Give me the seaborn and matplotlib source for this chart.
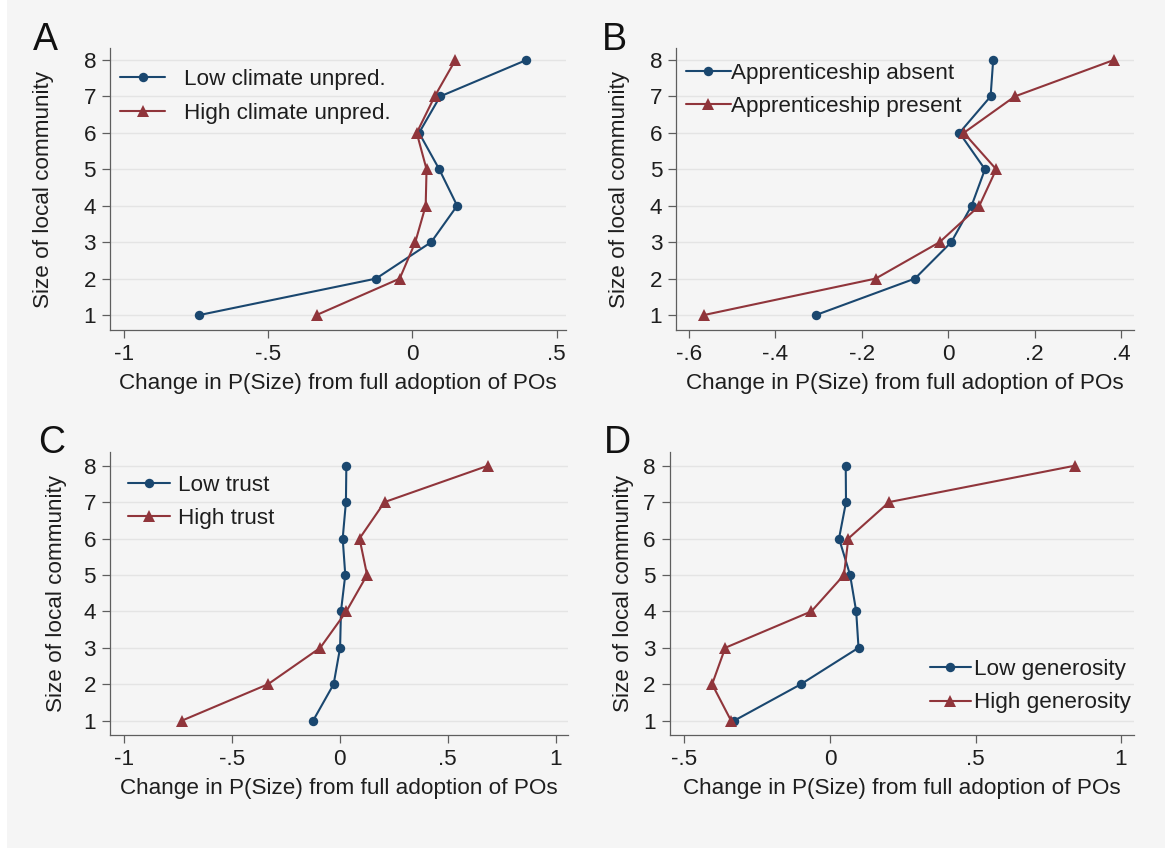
import numpy as np
import pandas as pd
import matplotlib
matplotlib.use("Agg")
import matplotlib.pyplot as plt
import seaborn as sns
from matplotlib.lines import Line2D
from matplotlib.patches import Rectangle

# ---- data: change in P(size) for community sizes 1..8 ----
sizes = [1, 2, 3, 4, 5, 6, 7, 8]

climate_low = [-0.738, -0.126, 0.065, 0.155, 0.093, 0.023, 0.096, 0.395]
climate_high = [-0.332, -0.044, 0.010, 0.046, 0.049, 0.015, 0.077, 0.149]

appr_absent = [-0.306, -0.077, 0.007, 0.054, 0.085, 0.026, 0.098, 0.104]
appr_present = [-0.565, -0.168, -0.020, 0.072, 0.111, 0.036, 0.154, 0.383]

trust_low = [-0.123, -0.028, 0.002, 0.006, 0.026, 0.014, 0.029, 0.031]
trust_high = [-0.731, -0.332, -0.090, 0.031, 0.127, 0.092, 0.208, 0.688]

gen_low = [-0.329, -0.100, 0.098, 0.090, 0.069, 0.031, 0.055, 0.054]
gen_high = [-0.340, -0.405, -0.360, -0.064, 0.048, 0.063, 0.203, 0.842]

panel_letters = ["A", "B", "C", "D"]
series_labels = [
    ("Low climate unpred.", "High climate unpred."),
    ("Apprenticeship absent", "Apprenticeship present"),
    ("Low trust", "High trust"),
    ("Low generosity", "High generosity"),
]
xtick_vals = [
    [-1, -0.5, 0, 0.5],
    [-0.6, -0.4, -0.2, 0, 0.2, 0.4],
    [-1, -0.5, 0, 0.5, 1],
    [-0.5, 0, 0.5, 1],
]
xtick_text = [
    ["-1", "-.5", "0", ".5"],
    ["-.6", "-.4", "-.2", "0", ".2", ".4"],
    ["-1", "-.5", "0", ".5", "1"],
    ["-.5", "0", ".5", "1"],
]
xlabel = "Change in P(Size) from full adoption of POs"
ylabel = "Size of local community"

# ---- style ----
BG = "#f5f5f5"
NAVY = "#1a476f"
MAROON = "#90353b"
TXT = "#1e1e1e"
AXC = "#5e5e5e"
FS = 16.2
MS_CIRCLE = 6.8
MS_TRI = 8.6

sns.set_theme(style="white")
plt.rcParams["font.family"] = ["Liberation Sans", "DejaVu Sans"]
plt.rcParams["text.color"] = TXT

fig = plt.figure(figsize=(11.65, 8.48), dpi=100, facecolor=BG)
# thin white margin along the left edge
fig.patches.append(Rectangle((0, 0), 7 / 1165, 1, transform=fig.transFigure,
                             facecolor="white", edgecolor="none", zorder=0))

# axes boxes [left, bottom, width, height] in figure fractions
boxes = [
    [0.0946, 0.6108, 0.3912, 0.3322],
    [0.5805, 0.6108, 0.3930, 0.3322],
    [0.0946, 0.1333, 0.3928, 0.3333],
    [0.5748, 0.1333, 0.3987, 0.3333],
]
xlims = [(-1.047, 0.532), (-0.629, 0.430), (-1.063, 1.057), (-0.551, 1.045)]
ylims = [(0.588, 8.32), (0.588, 8.32), (0.607, 8.366), (0.607, 8.366)]
ylabel_x = [-0.146, -0.125, -0.117, -0.100]
legend_anchor = [(0.0215, 0.829), (0.021, 0.852), (0.038, 0.824), (0.561, 0.1725)]
legend_handlelen = [2.0, 2.0, 1.9, 1.8]
legend_textpad = [0.85, 0.0, 0.34, 0.15]
letter_pos = [(33, 50), (602, 50), (38, 453), (604, 453)]

series = [
    (climate_low, climate_high),
    (appr_absent, appr_present),
    (trust_low, trust_high),
    (gen_low, gen_high),
]

for i, (lo, hi) in enumerate(series):
    ax = fig.add_axes(boxes[i])
    ax.set_facecolor(BG)
    lab_lo, lab_hi = series_labels[i]
    df = pd.DataFrame({
        "change": list(lo) + list(hi),
        "size": sizes + sizes,
        "group": [lab_lo] * len(sizes) + [lab_hi] * len(sizes),
    })
    sns.lineplot(
        data=df, x="change", y="size", hue="group", style="group",
        hue_order=[lab_lo, lab_hi], style_order=[lab_lo, lab_hi],
        palette=[NAVY, MAROON], markers=["o", "^"], dashes=False,
        sort=False, estimator=None, legend=False, ax=ax,
        linewidth=1.5, markersize=MS_CIRCLE, markeredgewidth=0,
    )
    # triangles read smaller than circles at equal size; enlarge them
    for ln in ax.lines:
        if ln.get_marker() == "^":
            ln.set_markersize(MS_TRI)

    ax.set_xlim(*xlims[i])
    ax.set_ylim(*ylims[i])
    ax.set_xticks(xtick_vals[i])
    ax.set_xticklabels(xtick_text[i])
    ax.set_yticks(sizes)
    ax.set_yticklabels([str(s) for s in sizes])
    ax.yaxis.grid(True, color="#e4e4e4", linewidth=1.0)
    ax.xaxis.grid(False)
    ax.set_axisbelow(True)

    for side in ["top", "right"]:
        ax.spines[side].set_visible(False)
    for side in ["left", "bottom"]:
        ax.spines[side].set_color(AXC)
        ax.spines[side].set_linewidth(0.9)
    ax.tick_params(axis="both", direction="out", length=5.8, width=0.9,
                   color=AXC, labelsize=FS, labelcolor=TXT, pad=4.3,
                   left=True, bottom=True)

    ax.set_xlabel(xlabel, fontsize=FS, color=TXT, va="center")
    ax.set_ylabel(ylabel, fontsize=FS, color=TXT, va="center")
    ax.xaxis.set_label_coords(0.50, -0.188)
    ax.yaxis.set_label_coords(ylabel_x[i], 0.5)

    handles = [
        Line2D([], [], color=NAVY, marker="o", lw=1.5, markersize=MS_CIRCLE, markeredgewidth=0),
        Line2D([], [], color=MAROON, marker="^", lw=1.5, markersize=MS_TRI, markeredgewidth=0),
    ]
    ax.legend(handles, [lab_lo, lab_hi], loc="center left",
              bbox_to_anchor=legend_anchor[i], frameon=False, fontsize=FS,
              borderpad=0, borderaxespad=0, handlelength=legend_handlelen[i],
              handletextpad=legend_textpad[i], labelspacing=0.55)

    lx, ly = letter_pos[i]
    fig.text(lx / 1165, 1 - ly / 848, panel_letters[i], fontsize=27,
             color="#111111", ha="left", va="baseline")

fig.savefig("out.png", dpi=100, facecolor=BG)
